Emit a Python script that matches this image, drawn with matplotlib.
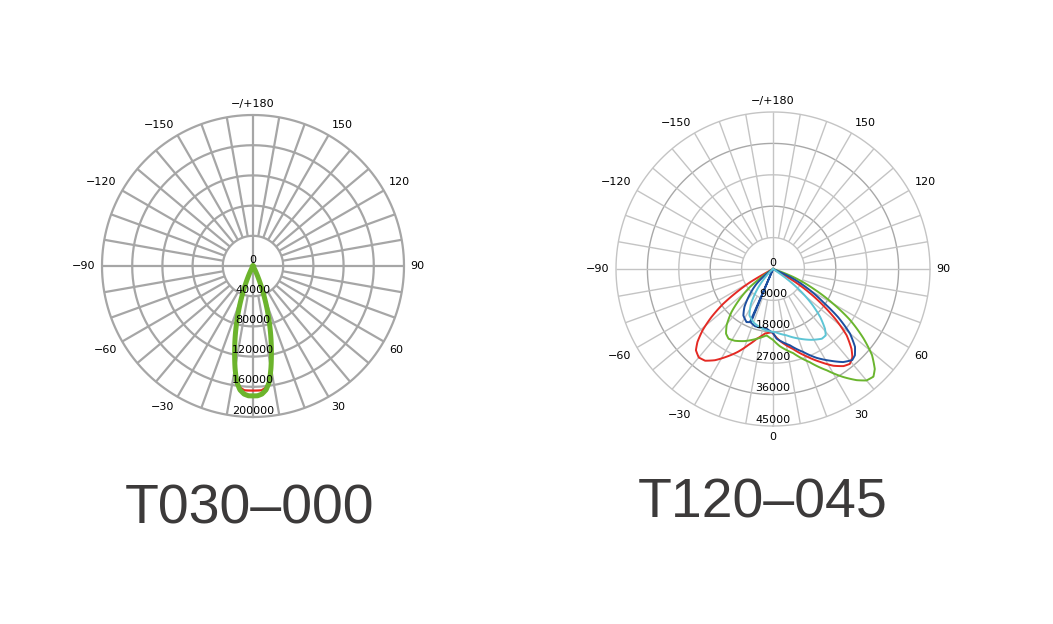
"""Two photometric polar plots (T030-000 / T120-045) side by side."""
import numpy as np
import matplotlib
matplotlib.use("Agg")
import matplotlib.pyplot as plt

# ---- axis labels / rings ---------------------------------------------------
ANGLE_TICKS = [180, 150, 120, 90, 60, 30, 0, -30, -60, -90, -120, -150]
ANGLE_LABELS = ["\u2212/+180", "150", "120", "90", "60", "30", "0",
                "\u221230", "\u221260", "\u221290", "\u2212120", "\u2212150"]

LEFT_RINGS = [40000, 80000, 120000, 160000, 200000]
RIGHT_RINGS = [9000, 18000, 27000, 36000, 45000]

# ---- T030-000 (narrow beam) -----------------------------------------------
left_angles = [-40, -32, -28, -26, -24, -22, -20, -18, -16, -14, -12, -10,
               -8, -6, -4, -2, 0, 2, 4, 6, 8, 10, 12, 14, 16, 18, 20, 22,
               24, 26, 28, 32, 40]
left_green = [0, 0, 3000, 8000, 17000, 29000, 44000, 61000, 79000, 98000,
              117000, 137000, 155000, 165000, 170000, 172000, 172000,
              172000, 170000, 165000, 155000, 137000, 117000, 98000, 79000,
              61000, 44000, 29000, 17000, 8000, 3000, 0, 0]
left_red = [0, 0, 1500, 5000, 14000, 26000, 41000, 58000, 77000, 96000,
            116000, 136000, 153000, 162000, 165000, 165000, 165000,
            165000, 165000, 162000, 153000, 136000, 116000, 96000, 77000,
            58000, 41000, 26000, 14000, 5000, 1500, 0, 0]

# ---- T120-045 (asymmetric) -----------------------------------------------
red_angles = [-70, -62, -61, -60, -57.5, -55, -52, -49, -46, -43.5, -40,
              -36.5, -32.5, -28, -23, -18, -13, -7, -1, 5.5, 14, 21, 27, 32,
              36, 39, 42, 44.5, 48, 51, 54, 57.5, 60.5, 62.5, 70]
red_vals = [0, 0, 3700, 7500, 12300, 17500, 22400, 26700, 30100, 32100,
            33100, 32700, 31000, 28500, 25800, 22900, 20500, 18600, 18100,
            20700, 23600, 26800, 29900, 32700, 34400, 35000, 34000, 32100,
            28400, 23400, 17800, 11400, 5600, 0, 0]

blue_angles = [-70, -54, -52, -48, -42, -37, -32.5, -26.5, -23.5, -23, -22.5,
               -17.5, -6, 0, 3, 12.5, 20, 26, 32, 37, 41, 43.5, 46.5, 50,
               53.5, 56.5, 61, 65, 67, 70]
blue_vals = [0, 0, 2900, 6300, 10100, 13600, 15800, 17000, 16600, 0, 16600,
             17200, 17200, 18300, 20000, 22400, 25300, 28300, 31000, 33400,
             34600, 34100, 32400, 28800, 23200, 17300, 11000, 5400, 0, 0]

green_angles = [-70, -57, -54.5, -52, -48, -44, -39.5, -36, -32.5, -28, -21.5,
                -13, -5.5, 0, 5, 13.5, 21.5, 28, 33, 37, 40, 43, 45.5, 49,
                52.5, 56.5, 60, 64, 68.5, 72, 78]
green_vals = [0, 0, 4000, 8400, 12700, 17100, 20900, 22900, 23700, 23300,
              22200, 20500, 19100, 20300, 22200, 24800, 28700, 32900, 36900,
              39900, 41700, 42200, 40900, 37600, 32700, 26500, 19900, 12900,
              6200, 0, 0]

cyan_angles = [-60, -48, -42, -37, -32, -27, -20, -12, -5, 2, 11.5, 21, 28.5,
               35, 38.5, 41, 44.5, 48, 51.5, 54.5, 57, 65]
cyan_vals = [0, 0, 4000, 8000, 12000, 14900, 16300, 17200, 17800, 18100,
             19400, 21400, 23100, 24400, 24300, 22700, 19300, 14900, 9900,
             4800, 0, 0]

TITLES = ["T030\u2013000", "T120\u2013045"]


def setup_polar(ax, rings, ring_colors, spoke_color, lw, show_zero):
    rmax = rings[-1]
    ax.set_theta_zero_location("S")
    ax.set_theta_direction(1)
    ax.set_ylim(0, rmax)
    ax.grid(False)
    ax.spines["polar"].set_visible(False)
    ax.set_xticks([])
    ax.set_yticks([])
    ax.patch.set_alpha(0)

    circ = np.linspace(0, 2 * np.pi, 361)
    for r, c in zip(rings, ring_colors):
        ax.plot(circ, np.full_like(circ, r), color=c, lw=lw, zorder=1,
                clip_on=False)
    for a in range(0, 360, 10):
        t = np.deg2rad(a)
        r0 = 0 if a % 90 == 0 else rings[0]
        ax.plot([t, t], [r0, rmax], color=spoke_color, lw=lw, zorder=1,
                solid_capstyle="butt", clip_on=False)

    # angle labels sit just outside the outer ring
    gap = 4.5
    for a, lab in zip(ANGLE_TICKS, ANGLE_LABELS):
        if a == 0 and not show_zero:
            continue
        ux, uy = np.sin(np.deg2rad(a)), -np.cos(np.deg2rad(a))
        ha = "left" if ux > 0.3 else ("right" if ux < -0.3 else "center")
        va = "bottom" if uy > 0.3 else ("top" if uy < -0.3 else "center")
        ax.annotate(lab, xy=(np.deg2rad(a), rmax),
                    xytext=(gap * ux, gap * uy), textcoords="offset points",
                    ha=ha, va=va, fontsize=8, color="black",
                    annotation_clip=False)

    for r in [0] + rings:
        ax.annotate(f"{r}", xy=(0, r), xytext=(0, 1.0),
                    textcoords="offset points", ha="center", va="bottom",
                    fontsize=8, color="black", zorder=10,
                    annotation_clip=False)


def curve(ax, angles, vals, **kw):
    # draw in polar space: segments follow the angle between read points
    line, = ax.plot(np.deg2rad(angles), vals, **kw)
    line.get_path()._interpolation_steps = 24
    return line


fig = plt.figure(figsize=(10.53, 6.24), dpi=100)

# left chart
axl = fig.add_axes([102 / 1053, (624 - 266 - 151) / 624, 302 / 1053,
                    302 / 624], projection="polar")
setup_polar(axl, LEFT_RINGS, ["#a6a6a6"] * 5, "#a6a6a6", 1.6, False)
curve(axl, left_angles, left_red, color="#e8241c", lw=1.6, zorder=4)
curve(axl, left_angles, left_green, color="#6cb42c", lw=3.6, zorder=5)

# right chart
axr = fig.add_axes([616 / 1053, (624 - 269 - 157) / 624, 314 / 1053,
                    314 / 624], projection="polar")
setup_polar(axr, RIGHT_RINGS,
            ["#c4c4c4", "#a8a8a8", "#c4c4c4", "#a8a8a8", "#c4c4c4"],
            "#c4c4c4", 1.0, True)
curve(axr, red_angles, red_vals, color="#e42a24", lw=1.4, zorder=4)
curve(axr, green_angles, green_vals, color="#6ab52e", lw=1.4, zorder=4)
curve(axr, blue_angles, blue_vals, color="#1d4f9f", lw=1.4, zorder=5)
curve(axr, cyan_angles, cyan_vals, color="#5ec5d5", lw=1.4, zorder=6)

# titles
fig.text(250 / 1053, 1 - 523 / 624, TITLES[0], ha="center", va="baseline",
         fontsize=40, family="Liberation Sans", color="#3c3a3a")
fig.text(763 / 1053, 1 - 518 / 624, TITLES[1], ha="center", va="baseline",
         fontsize=40, family="Liberation Sans", color="#3c3a3a")

fig.savefig("out.png", dpi=100, facecolor="white")
